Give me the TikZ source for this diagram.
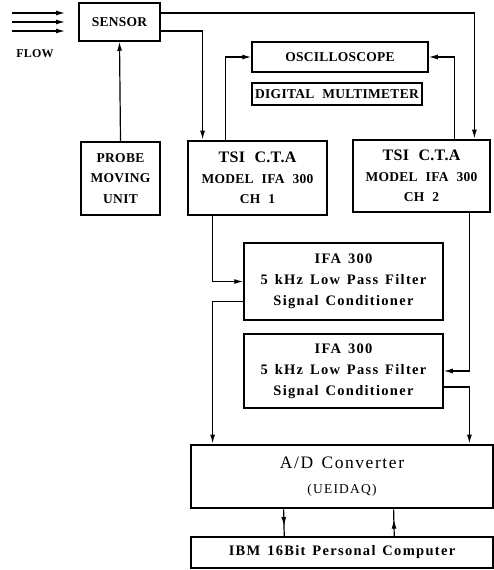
\documentclass[tikz,border=0pt]{standalone}
\usepackage{fontspec}
\setmainfont{Liberation Serif}
\newfontfamily\capsfont{Liberation Serif}[WordSpace=2.2,LetterSpace=2]
\newfontfamily\mixfont{Liberation Serif}[LetterSpace=9,WordSpace=1.4]
\usetikzlibrary{arrows.meta,decorations.markings}
\begin{document}
\begin{tikzpicture}[x=1pt,y=-1pt,
  box/.style={draw,line width=1.5pt,inner sep=0pt,align=center,
    font=\capsfont\bfseries\fontsize{13.5}{20.5}\selectfont},
  thickbox/.style={box,line width=2.8pt},
  mixbox/.style={box,font=\mixfont\bfseries\fontsize{14.5}{21}\selectfont},
  tip/.tip={Latex[length=9pt,width=5pt]},
  conn/.style={line width=1.2pt,-tip},
  midarrow/.style={line width=1.2pt,postaction={decorate},
    decoration={markings,mark=at position 0.62 with {\arrow{tip}}}}]
\useasboundingbox (0,0) rectangle (494,570);

% boxes
\node[box,minimum width=81pt,minimum height=38pt] (sensor) at (119.5,22) {SENSOR};
\node[box,minimum width=176pt,minimum height=30pt] (osc) at (340,57) {OSCILLOSCOPE};
\node[box,minimum width=170pt,minimum height=22pt] (dmm) at (337,94) {DIGITAL MULTIMETER};
\node[box,minimum width=79pt,minimum height=73pt] (probe) at (120.5,178.5) {PROBE\\MOVING\\UNIT};
\node[thickbox,minimum width=139pt,minimum height=74pt] (ch1) at (257.5,178)
  {{\fontsize{16}{20.5}\selectfont TSI C.T.A}\\MODEL IFA 300\\CH 1};
\node[thickbox,minimum width=137pt,minimum height=72pt] (ch2) at (421.5,176)
  {{\fontsize{16}{20.5}\selectfont TSI C.T.A}\\MODEL IFA 300\\CH 2};
\node[mixbox,minimum width=199pt,minimum height=77pt] (f1) at (343.5,281.5)
  {IFA 300\\5 kHz Low Pass Filter\\Signal Conditioner};
\node[mixbox,minimum width=199pt,minimum height=74pt] (f2) at (343.5,371)
  {IFA 300\\5 kHz Low Pass Filter\\Signal Conditioner};
\node[mixbox,thickbox,font=\mixfont\fontsize{17.5}{25}\selectfont,minimum width=302pt,minimum height=63pt] (ad) at (342,476.5)
  {A/D Converter\\{\fontsize{13.5}{25}\selectfont (UEIDAQ)}};
\node[mixbox,minimum width=302pt,minimum height=31pt] (ibm) at (342,552.5)
  {IBM 16Bit Personal Computer};

% flow
\node[font=\capsfont\bfseries\fontsize{12}{14}\selectfont] (flow) at (35,54) {FLOW};
\coordinate (fa1) at (12,13); \coordinate (fb1) at (65,13);
\coordinate (fa2) at (12,22); \coordinate (fb2) at (65,22);
\coordinate (fa3) at (12,31); \coordinate (fb3) at (65,31);
\draw[conn] (fa1) -- (fb1);
\draw[conn] (fa2) -- (fb2);
\draw[conn] (fa3) -- (fb3);

% connectors
\draw[conn] ([yshift=9pt]sensor.east) -| ([xshift=-17pt]ch2.north east);
\draw[conn] ([yshift=-9pt]sensor.east) -| ([xshift=16pt]ch1.north west);
\draw[conn] ([xshift=39pt]ch1.north west) |- (osc.west);
\draw[conn] ([xshift=-37pt]ch2.north east) |- (osc.east);
\draw[conn] (probe.north) -- (sensor.south);
\draw[conn] ([xshift=26pt]ch1.south west) |- (f1.west);
\draw[conn] ([yshift=-20pt]f1.west) -| ([xshift=23pt]ad.north west);
\draw[conn] ([xshift=-22pt]ch2.south east) |- (f2.east);
\draw[conn] ([yshift=-16pt]f2.east) -| ([xshift=-25pt]ad.north east);
\draw[midarrow] ([xshift=94pt]ad.south west) -- ([xshift=94pt]ibm.north west);
\draw[midarrow] ([xshift=204pt]ibm.north west) -- ([xshift=204pt]ad.south west);
\end{tikzpicture}
\end{document}
